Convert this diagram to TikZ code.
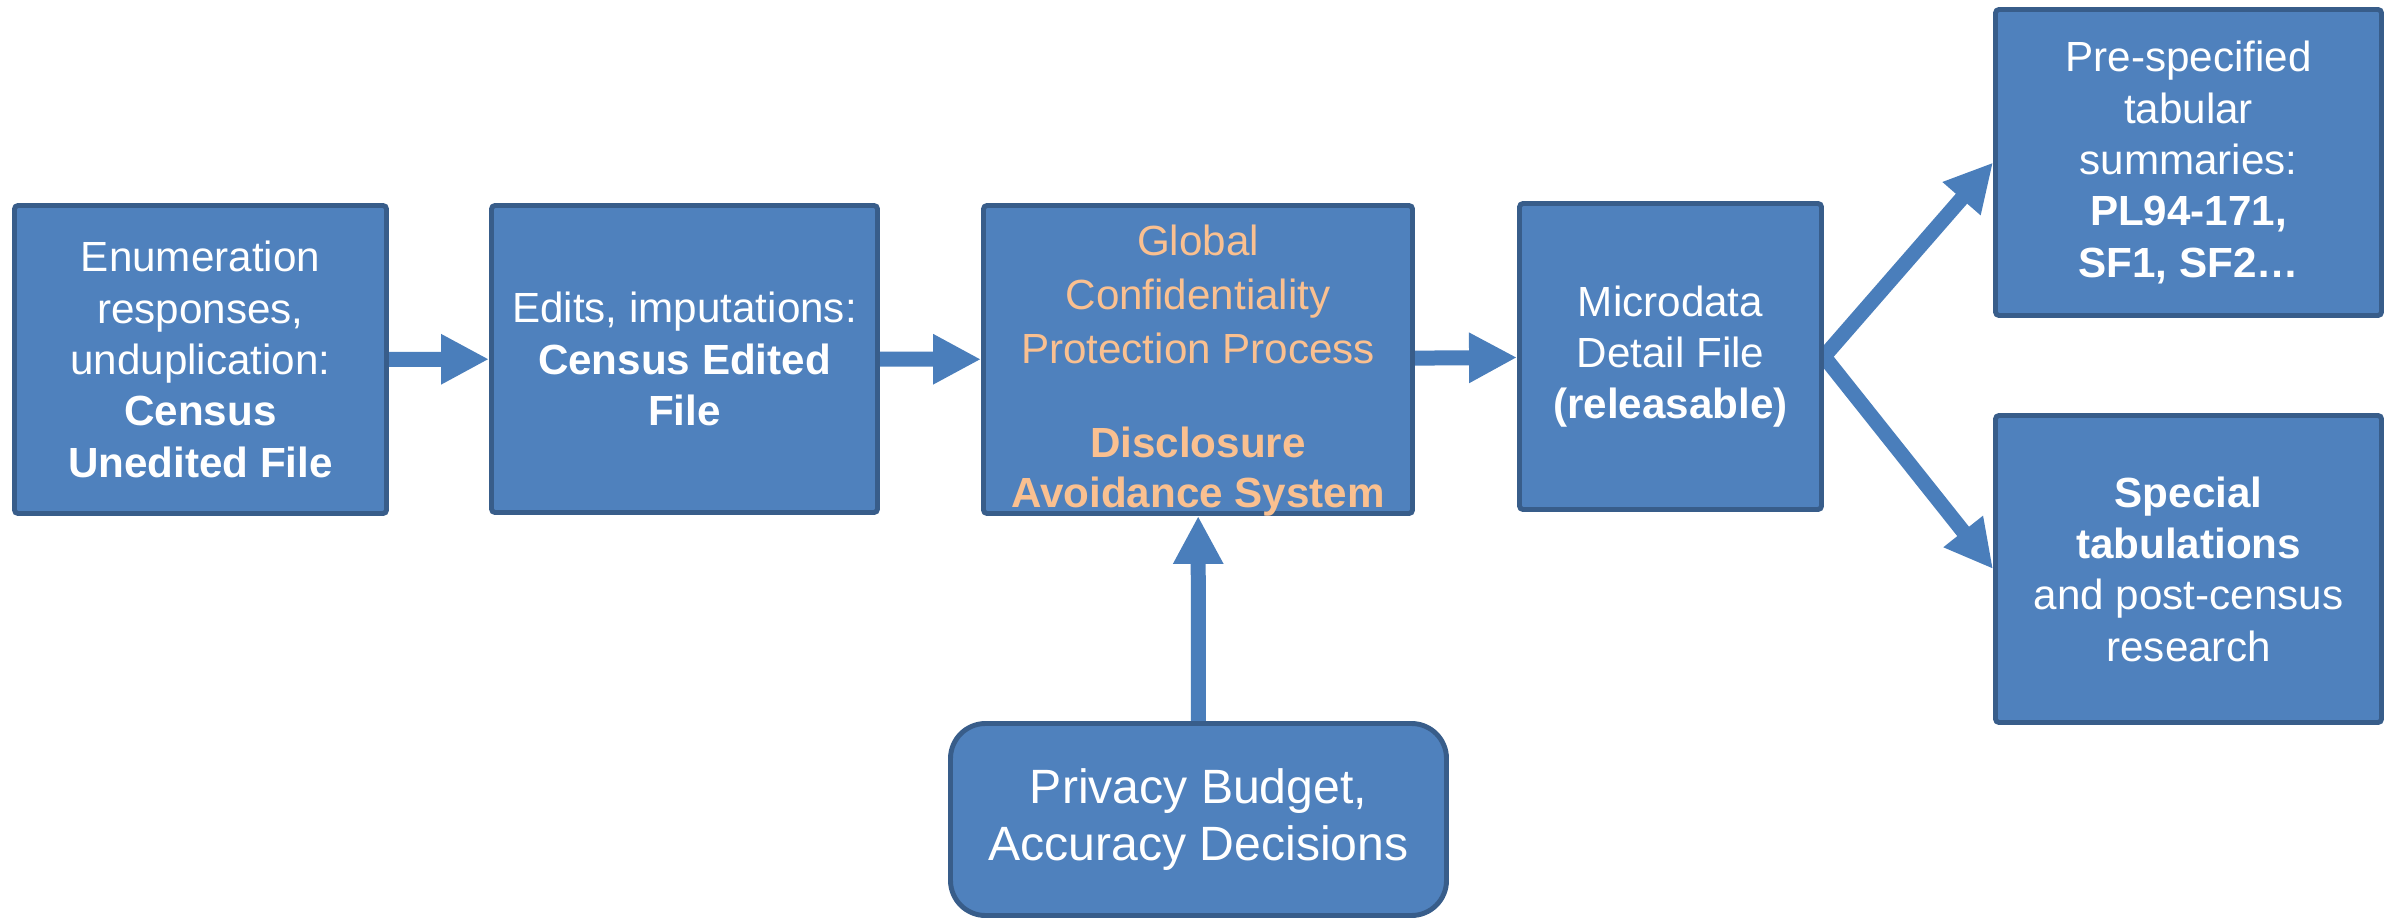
\documentclass[tikz,border=0pt]{standalone}
\usepackage{fontspec}
\setmainfont{Liberation Sans}
\usepackage{xcolor}
\usepackage{tikz}
\usetikzlibrary{arrows.meta,positioning,calc,backgrounds}

\definecolor{boxblue}{HTML}{4F81BD}
\definecolor{boxedge}{HTML}{385D8A}
\definecolor{flowblue}{HTML}{4A7EBB}
\definecolor{dasorange}{HTML}{FAC090}

\begin{document}
\begin{tikzpicture}[font=\fontsize{12}{14.6}\selectfont,
    stage/.style={draw=boxedge, fill=boxblue, line width=1.4pt, rounded corners=1pt,
        text=white, align=center, inner sep=0pt},
    dastext/.style={text=dasorange, align=center, font=\fontsize{12}{15.4}\selectfont, yshift=-0.11cm},
    flow/.style={draw=flowblue, line width=0.15cm, -{Triangle[length=0.48cm,width=0.47cm]}}]
    \useasboundingbox (0,0) rectangle (23.93,9.20);

    % Census files
    \node[stage, minimum width=3.72cm, minimum height=3.08cm] (unedited) at (2.005,5.605)
        {Enumeration\\responses,\\unduplication:\\\textbf{Census}\\\textbf{Unedited File}};
    \node[stage, minimum width=3.86cm, minimum height=3.07cm] (edited) at (6.845,5.61)
        {Edits, imputations:\\\textbf{Census Edited}\\\textbf{File}};

    % Disclosure avoidance
    \node[stage, minimum width=4.29cm, minimum height=3.08cm,
        label={[dastext]center:{Global\\Confidentiality\\Protection Process\\[11.5pt]\textbf{Disclosure}\\[-1.2pt]\textbf{Avoidance System}}}]
        (gcpp) at (11.98,5.605) {};
    \node[stage, rounded corners=0.35cm, minimum width=4.96cm, minimum height=1.92cm,
        font=\fontsize{13.7}{16.2}\selectfont] (budget) at (11.985,1.005)
        {Privacy Budget,\\Accuracy Decisions};

    % Outputs
    \node[stage, minimum width=3.02cm, minimum height=3.06cm] (mdf) at (16.705,5.635)
        {Microdata\\Detail File\\\textbf{(releasable)}};
    \node[stage, minimum width=3.86cm, minimum height=3.06cm] (summaries) at (21.885,7.575)
        {Pre-specified\\tabular\\summaries:\\\textbf{PL94-171,}\\\textbf{SF1, SF2…}};
    \node[stage, minimum width=3.86cm, minimum height=3.07cm] (special) at (21.885,3.51)
        {\textbf{Special}\\\textbf{tabulations}\\and post-census\\research};

    % Flow
    \begin{scope}[on background layer]
        \draw[flow] (unedited) -- (edited);
        \draw[flow] (edited) -- (gcpp);
        \draw[flow] (gcpp) -- (mdf);
        \draw[flow] (budget) -- (gcpp);
        \draw[flow] (mdf.east) -- (summaries.west);
        \draw[flow] (mdf.east) -- (special.west);
    \end{scope}
\end{tikzpicture}
\end{document}
